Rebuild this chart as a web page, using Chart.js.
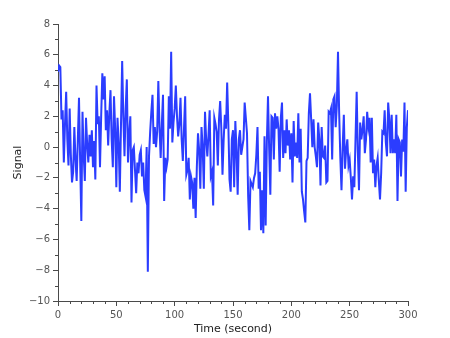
<!DOCTYPE html>
<html>
<head>
<meta charset="utf-8">
<script src="https://cdn.jsdelivr.net/npm/chart.js@4/dist/chart.umd.min.js"></script>
<style>
  html, body { margin: 0; padding: 0; background: #fff; }
  #wrap { width: 450px; height: 338px; }
</style>
</head>
<body>
<div id="wrap"><canvas id="signalChart" width="450" height="338"></canvas></div>
<script>
// signal values, one sample per second (0..300 s)
const signal = [
  4.9, 5.3, 5.2, 1.8, 2.4, -1.0, 1.5, 3.6, 0.5, -1.2,
  2.5, -0.5, -2.3, -1.6, 1.3, -0.8, -2.2, 0.5, 3.2, -1.0,
  -4.8, 2.3, -0.5, -2.2, 1.9, 0.2, -1.0, 0.8,
  -0.6, 1.1, -1.3, 0.4, -2.1, 4.0, 1.5, 2.0, -1.3, 2.0,
  4.8, 3.1, 4.6, 1.1, 2.4, 0.1, 2.2, 3.7, 0.5, -1.3,
  3.3, 1.2, -2.6, 1.9, 0.3, -2.9, 1.5, 5.6, 2.0,
  -0.6, 2.5, 4.4, -1.0, 0.8, 2.0, -3.6, -0.2, 0.0, -1.5,
  -3.0, -1.0, -1.7, -0.5, -0.2, -1.9, -1.0, -2.8, -3.2, 0.0,
  -8.1, -0.6, 1.0, 2.3, 3.4, 0.2, 1.3, 0.0, 1.0, 4.3, 1.3,
  -0.7, 1.5, 3.4, -3.5, -0.7, -1.3, -0.8, 3.3, 1.2, 6.2,
  0.3, 1.6, 2.5, 4.0, 2.0, 0.7, 1.5, 3.2, 0.5, -0.9,
  1.2, 3.3, -1.8, -1.5, -0.7, -3.4, -1.9, -2.3, -4.0, -2.0,
  -4.6, -1.3, 0.9, -0.2, -2.7, 1.3, 0.0, -2.7, 2.3, 0.5,
  -0.6, 0.8, 2.4, -1.9, -1.6, -3.8, 1.9, 1.5, 1.0, -1.2,
  1.8, 3.0, 1.2, -1.8, 0.5, 2.1, 1.2, 4.2, 1.5, -2.1,
  -2.9, 0.5, 1.1, -2.6, 1.7, -0.2, -3.1, 0.5, 1.1, -0.5,
  0.0, 0.5, 2.9, 1.9, 0.9, -3.2, -5.4, -2.2, -2.4, -2.6,
  -2.0, -1.7, -0.5, 1.3, -2.7, -1.6, -5.4, -2.8, -5.6, 0.7,
  -5.1, 0.3, 3.3, -0.1, -3.1, 2.0, 1.9, -0.8, 2.2, 1.2,
  2.0, 1.2, -1.6, 1.9, 2.9, -0.7, 1.1, -0.4, 1.8, 0.1,
  1.1, -0.8, 0.9, -2.3, 1.7, -0.6, 0.3, -0.7, 2.2,
  -1.0, 1.2, -2.9, -3.4, -4.2, -4.9, -0.9, -0.7, 2.2, 3.5,
  1.8, 0.0, 1.8, 0.0, -0.6, -1.3, 1.6, 0.5, -2.5, 1.3,
  -0.6, -0.7, 0.1, -2.3, -2.2, 2.3, 2.2, 2.5, -0.8, 3.1,
  3.3, 1.3, 2.7, 6.2, 2.2, -0.7, -2.8, 0.0, 2.1, -1.4,
  -0.2, 0.5, -1.2, -0.8, -2.0, -3.4, -1.9, -2.6, 0.5, 3.6,
  -0.3, -2.8, 1.6, 0.5, 1.1, 2.0, -0.4, 0.5, 2.3, 1.3,
  1.9, -1.0,
  1.9, -1.7, -0.8, -2.6, -1.2, -0.7, -2.2, -3.4, -1.7, 1.0,
  0.9, 2.4, 0.3, -0.6, 2.9, 1.8, -0.4, 2.1, -0.4, 0.5,
  -0.4, 2.1, -3.5, 0.5, 0.3, -1.9, 0.5, -0.3, 2.9, -2.9,
  1.3, 2.4
];
const times = signal.map((v, i) => i);

const yMajor = [-10, -8, -6, -4, -2, 0, 2, 4, 6, 8];
const xMajor = [0, 50, 100, 150, 200, 250, 300];

const axisColor = "#4a4a4a";
const fontFamily = "'DejaVu Sans', sans-serif";

// short minor ticks between the labelled ones
const minorTicks = {
  id: "minorTicks",
  afterDraw(chart) {
    const { ctx, scales } = chart;
    const x = scales.x;
    const y = scales.y;
    ctx.save();
    ctx.strokeStyle = axisColor;
    ctx.lineWidth = 1;
    ctx.beginPath();
    for (let v = -9; v <= 7; v += 2) {
      const py = Math.round(y.getPixelForValue(v)) + 0.5;
      ctx.moveTo(x.left - 3, py);
      ctx.lineTo(x.left, py);
    }
    for (let t = 10; t < 300; t += 10) {
      if (t % 50 === 0) continue;
      const px = Math.round(x.getPixelForValue(t)) + 0.5;
      ctx.moveTo(px, y.bottom);
      ctx.lineTo(px, y.bottom + 3);
    }
    ctx.stroke();
    ctx.restore();
  },
};

const ctx = document.getElementById("signalChart").getContext("2d");

new Chart(ctx, {
  type: "line",
  data: {
    labels: times,
    datasets: [
      {
        label: "Signal",
        data: signal,
        borderColor: "#2b3dff",
        borderWidth: 2,
        pointRadius: 0,
        tension: 0,
        fill: false,
      },
    ],
  },
  options: {
    responsive: false,
    animation: false,
    layout: { padding: { left: 0, top: 24, right: 42, bottom: 0 } },
    plugins: { legend: { display: false }, tooltip: { enabled: false } },
    scales: {
      x: {
        type: "linear",
        min: 0,
        max: 300,
        afterFit: (scale) => { scale.height = 37; },
        afterBuildTicks: (scale) => { scale.ticks = xMajor.map((v) => ({ value: v })); },
        grid: { drawOnChartArea: false, tickLength: 5, color: axisColor },
        border: { color: axisColor, width: 1 },
        ticks: { color: "#555", font: { family: fontFamily, size: 10 }, padding: 3, maxRotation: 0 },
        title: {
          display: true,
          text: "Time (second)",
          color: "#222",
          font: { family: fontFamily, size: 11 },
          padding: { top: 0, bottom: 2 },
        },
      },
      y: {
        min: -10,
        max: 8,
        afterFit: (scale) => { scale.width = 58; },
        afterBuildTicks: (scale) => { scale.ticks = yMajor.map((v) => ({ value: v })); },
        grid: { drawOnChartArea: false, tickLength: 5, color: axisColor },
        border: { color: axisColor, width: 1 },
        ticks: {
          color: "#555",
          font: { family: fontFamily, size: 10 },
          padding: 3,
          callback: (v) => String(v).replace("-", "\u2212"),
        },
        title: {
          display: true,
          text: "Signal",
          color: "#222",
          font: { family: fontFamily, size: 11 },
          padding: { top: 12, bottom: 0 },
        },
      },
    },
  },
  plugins: [minorTicks],
});
</script>
</body>
</html>
